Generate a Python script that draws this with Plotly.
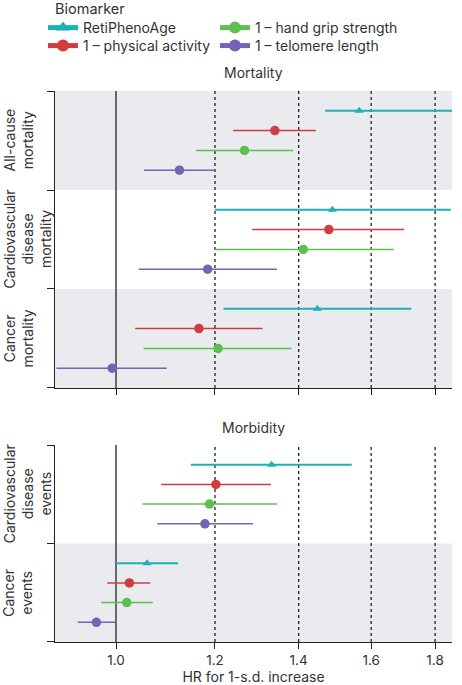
import plotly.graph_objects as go

# ---------------- data ----------------
series = ["RetiPhenoAge", "1 – physical activity", "1 – hand grip strength", "1 – telomere length"]
mortality_outcomes = ["All-cause<br>mortality", "Cardiovascular<br>disease<br>mortality", "Cancer<br>mortality"]
morbidity_outcomes = ["Cardiovascular<br>disease<br>events", "Cancer<br>events"]

# HR, lower CI, upper CI for: all-cause mort, CVD mort, cancer mort, CVD events, cancer events
reti_hr = [1.565, 1.49, 1.449, 1.332, 1.059]
reti_lo = [1.47, 1.20, 1.219, 1.148, 1.0]
reti_hi = [1.90, 1.853, 1.723, 1.544, 1.121]

pa_hr = [1.34, 1.48, 1.165, 1.202, 1.025]
pa_lo = [1.241, 1.285, 1.036, 1.087, 0.984]
pa_hi = [1.445, 1.70, 1.31, 1.33, 1.065]

hgs_hr = [1.267, 1.412, 1.207, 1.188, 1.02]
hgs_lo = [1.159, 1.202, 1.052, 1.05, 0.973]
hgs_hi = [1.386, 1.668, 1.382, 1.345, 1.07]

tl_hr = [1.124, 1.184, 0.993, 1.178, 0.9645]
tl_lo = [1.053, 1.043, 0.896, 1.079, 0.932]
tl_hi = [1.20, 1.345, 1.098, 1.287, 1.0]

tick_vals = [1.0, 1.2, 1.4, 1.6, 1.8]
tick_text = ["1.0", "1.2", "1.4", "1.6", "1.8"]

# ---------------- style ----------------
colors = ["#1fb0b4", "#d13c40", "#5dbf50", "#7563b3"]
symbols = ["triangle-up", "circle", "circle", "circle"]
msizes = [8, 9.5, 9.5, 9.5]
lwidths = [2, 1.5, 1.5, 1.5]
legend_ids = ["legend", "legend3", "legend2", "legend4"]
legend_pos = {"legend": (-0.0302, 1.1143), "legend2": (0.403, 1.1143),
              "legend3": (-0.0302, 1.0817), "legend4": (0.403, 1.0817)}
FONT = "Inter"
TXT = "#333333"
AX = "#222222"
BAND = "#e9ebef"

hr_all = [reti_hr, pa_hr, hgs_hr, tl_hr]
lo_all = [reti_lo, pa_lo, hgs_lo, tl_lo]
hi_all = [reti_hi, pa_hi, hgs_hi, tl_hi]

n_mort = len(mortality_outcomes)
n_morb = len(morbidity_outcomes)

fig = go.Figure()

for j, name in enumerate(series):
    for idxs, n, xa, ya in [
        (range(0, n_mort), n_mort, "x", "y"),
        (range(n_mort, n_mort + n_morb), n_morb, "x2", "y2"),
    ]:
        xs, ys, ep, em = [], [], [], []
        for k, oi in enumerate(idxs):
            hr = hr_all[j][oi]
            xs.append(hr)
            ys.append(5 * (n - k) - (j + 1))
            ep.append(hi_all[j][oi] - hr)
            em.append(hr - lo_all[j][oi])
        fig.add_trace(go.Scatter(
            x=xs, y=ys, mode="markers", xaxis=xa, yaxis=ya, name=name,
            marker=dict(symbol=symbols[j], size=msizes[j], color=colors[j]),
            error_x=dict(type="data", array=ep, arrayminus=em, symmetric=False,
                         color=colors[j], thickness=lwidths[j], width=0),
            showlegend=False, cliponaxis=False, hoverinfo="x+name",
        ))
    fig.add_trace(go.Scatter(
        x=[None], y=[None], mode="lines+markers", name=name, legend=legend_ids[j],
        marker=dict(symbol=symbols[j], size=msizes[j], color=colors[j]),
        line=dict(color=colors[j], width=lwidths[j]),
    ))

shapes = []
for y0, y1, yr, xr in [(10, 15, "y", "x domain"), (0, 5, "y", "x domain"), (0, 5, "y2", "x2 domain")]:
    shapes.append(dict(type="rect", xref=xr, yref=yr, x0=0, x1=1, y0=y0, y1=y1,
                       fillcolor=BAND, line_width=0, layer="below"))
for xr, yr in [("x", "y domain"), ("x2", "y2 domain")]:
    for v in tick_vals:
        shapes.append(dict(type="line", xref=xr, yref=yr, x0=v, x1=v, y0=0, y1=1,
                           line=dict(color=AX, width=1.3, dash="solid" if v == 1.0 else "3px,3px"),
                           layer="below"))

annotations = []
annotations.append(dict(text="Biomarker", xref="paper", yref="paper", x=0, y=1.1506, xshift=-2,
                        xanchor="left", yanchor="middle", showarrow=False,
                        font=dict(size=14.5, color=TXT, family=FONT)))
annotations.append(dict(text="Mortality", xref="paper", yref="paper", x=0.5, y=1.0327,
                        showarrow=False, font=dict(size=14, color=TXT, family=FONT), yanchor="middle"))
annotations.append(dict(text="Morbidity", xref="paper", yref="paper", x=0.5, y=0.390,
                        showarrow=False, font=dict(size=14, color=TXT, family=FONT), yanchor="middle"))
for outcomes, ya in [(mortality_outcomes, "y"), (morbidity_outcomes, "y2")]:
    n = len(outcomes)
    for k, lab in enumerate(outcomes):
        nlines = lab.count("<br>") + 1
        annotations.append(dict(text=lab, xref="paper", yref=ya, x=0, y=5 * (n - k) - 2.5,
                                xanchor="center", yanchor="middle", textangle=-90,
                                xshift=-37 if nlines == 2 else -28,
                                showarrow=False, font=dict(size=14, color=TXT, family=FONT)))

xcommon = dict(type="log", range=[-0.0488, 0.2688], tickvals=tick_vals, ticktext=tick_text,
               ticks="outside", ticklen=6, tickcolor=AX, tickwidth=1.3,
               showline=True, linecolor=AX, linewidth=1.3, showgrid=False, zeroline=False,
               tickfont=dict(size=13.5, color=TXT, family=FONT))
ycommon = dict(showticklabels=False, ticks="outside", ticklen=7, tickcolor=AX, tickwidth=1.3,
               showline=True, linecolor=AX, linewidth=1.3, showgrid=False, zeroline=False)

legend_layout = {}
for lid, (lx, ly) in legend_pos.items():
    legend_layout[lid] = dict(x=lx, y=ly, xanchor="left", yanchor="middle", orientation="v",
                              font=dict(size=14, color=TXT, family=FONT),
                              bgcolor="rgba(0,0,0,0)", borderwidth=0, itemsizing="constant")

fig.update_layout(
    width=462, height=685,
    margin=dict(l=55, r=10, t=91, b=43, autoexpand=False),
    paper_bgcolor="white", plot_bgcolor="white",
    font=dict(family=FONT, size=13, color=TXT),
    xaxis=dict(**xcommon, anchor="y", showticklabels=False),
    xaxis2=dict(**xcommon, anchor="y2",
                title=dict(text="HR for 1-s.d. increase", standoff=4,
                           font=dict(size=14, color=TXT, family=FONT))),
    yaxis=dict(**ycommon, domain=[0.461, 1.0], range=[0, 15], tickvals=[0, 5, 10, 15]),
    yaxis2=dict(**ycommon, domain=[0.0, 0.3575], range=[0, 10], tickvals=[0, 5, 10]),
    shapes=shapes,
    annotations=annotations,
    showlegend=True,
    **legend_layout,
)

fig.write_html("out.html", config={"displayModeBar": False},
               post_script="document.body.style.margin='0px';")
